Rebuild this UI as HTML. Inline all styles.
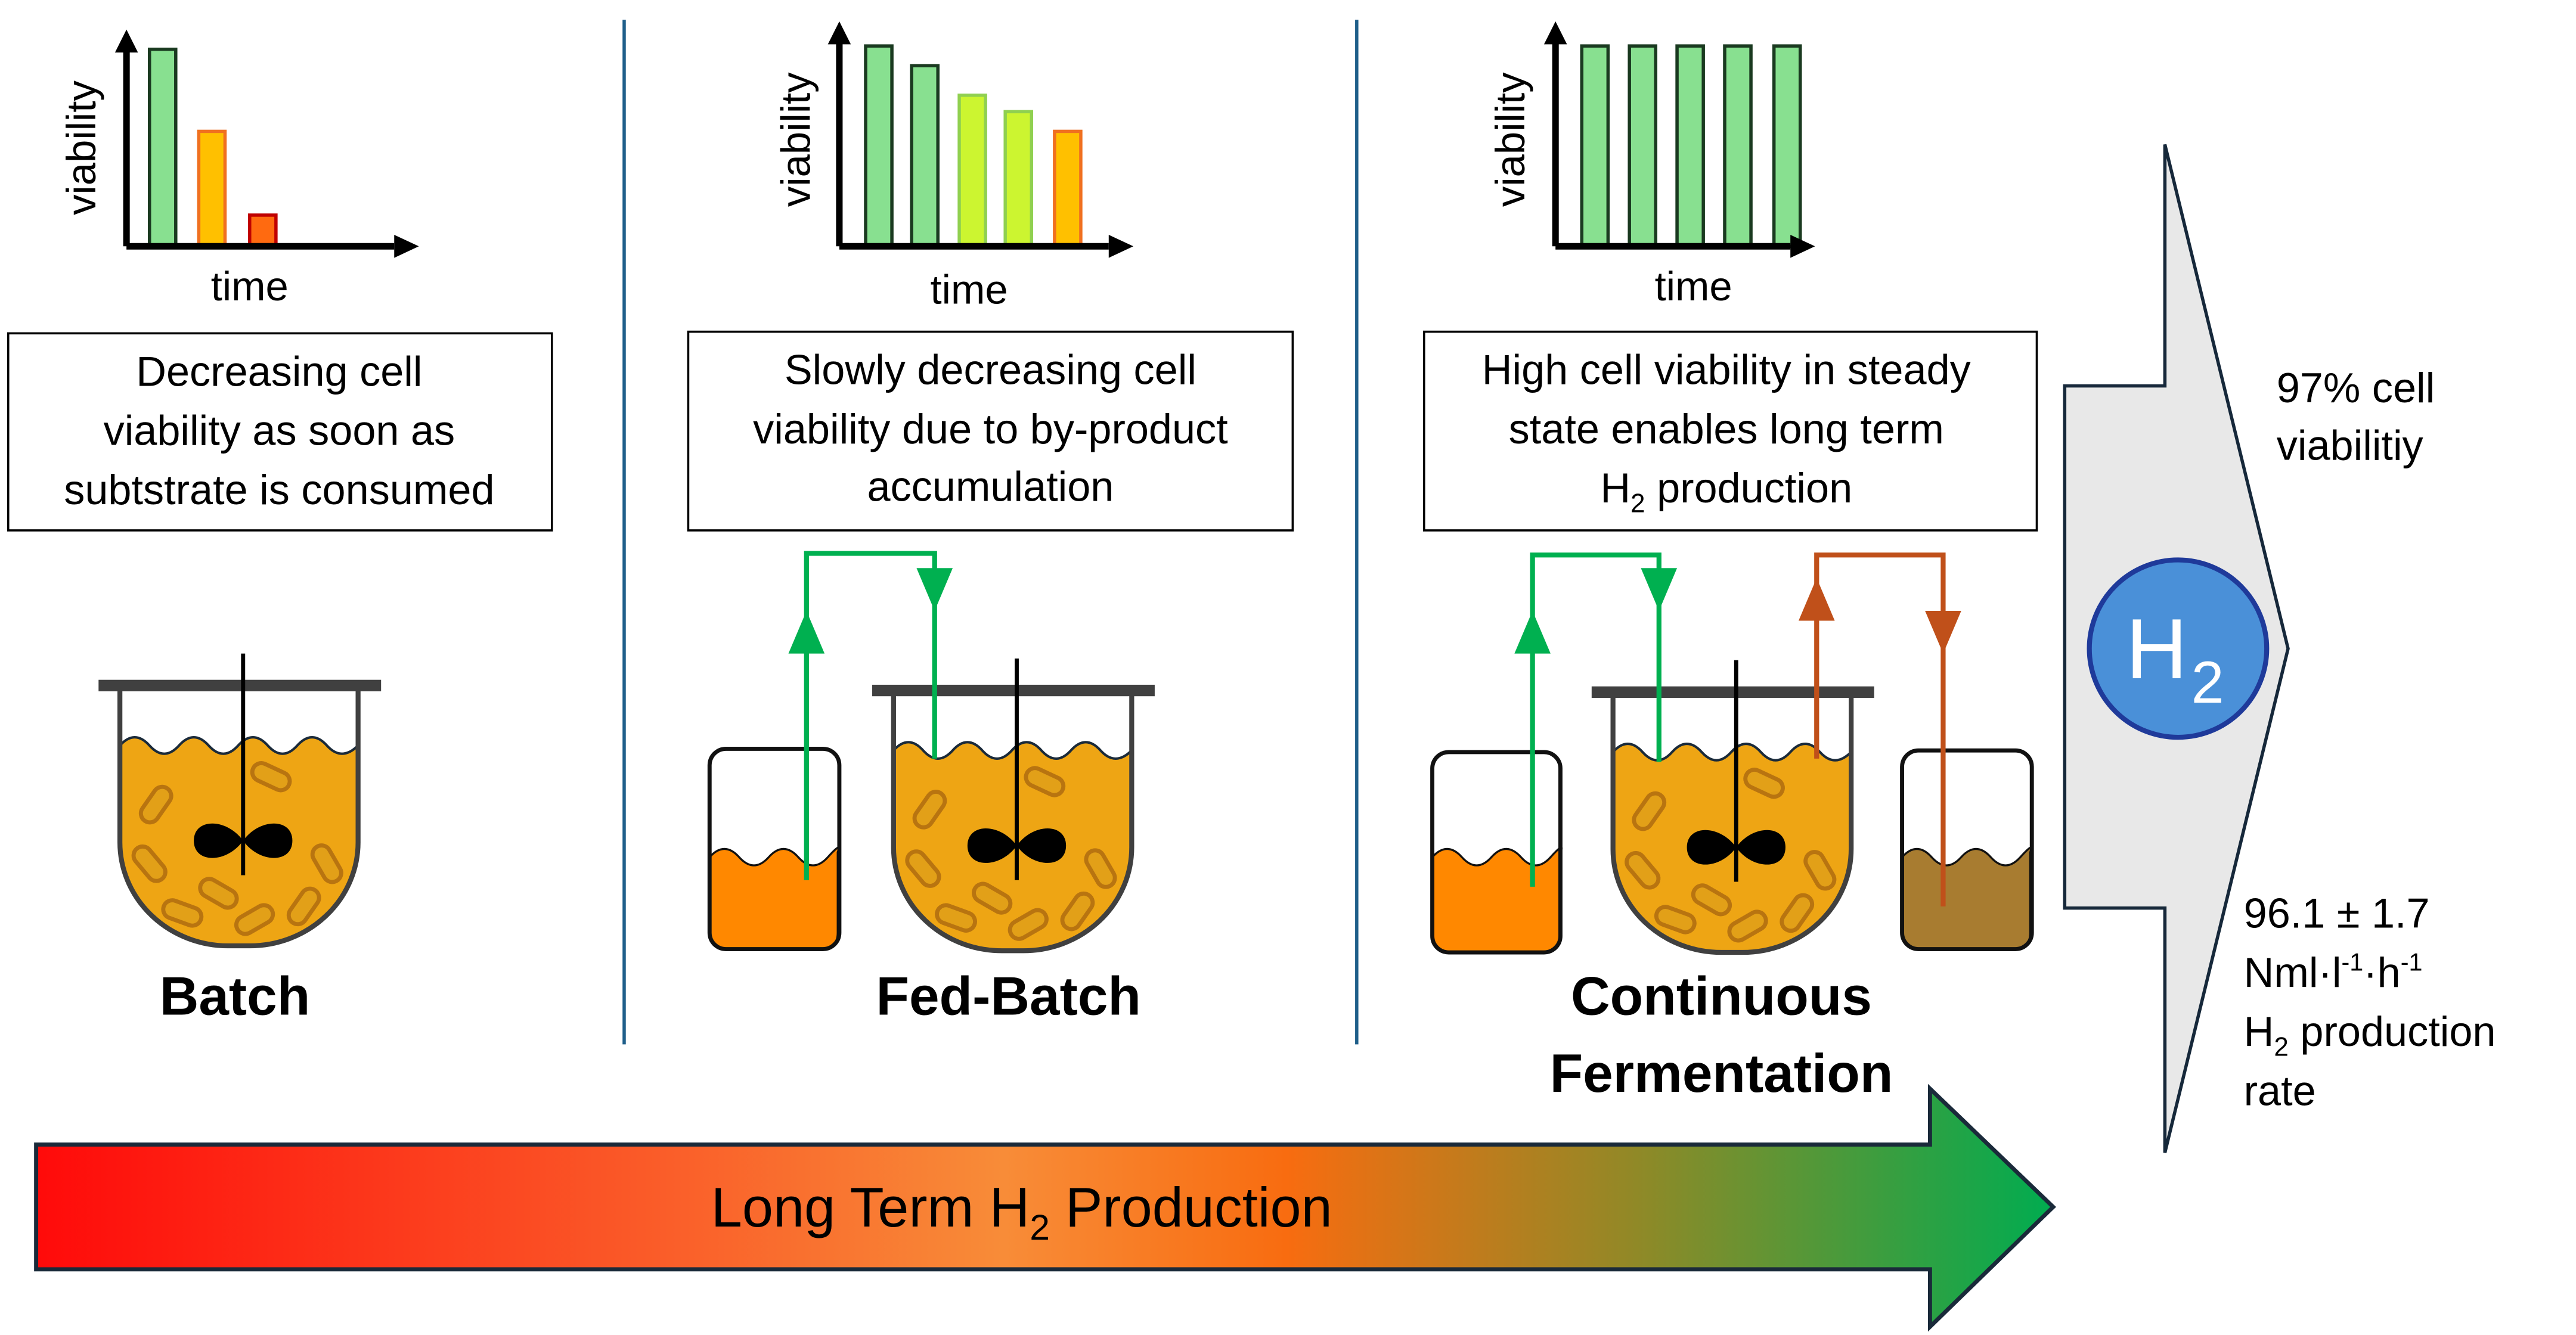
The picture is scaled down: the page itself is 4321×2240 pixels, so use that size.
<!DOCTYPE html>
<html><head><meta charset="utf-8"><style>html,body{margin:0;padding:0;background:#fff}svg{display:block}</style></head>
<body>
<svg width="4321" height="2240" viewBox="0 0 1568 813" preserveAspectRatio="xMinYMin meet" xmlns="http://www.w3.org/2000/svg" font-family="'Liberation Sans', sans-serif">
<defs>
<linearGradient id="g" x1="0" x2="1" y1="0" y2="0">
<stop offset="0" stop-color="#ff0a0a"/><stop offset="0.3" stop-color="#fa5a28"/><stop offset="0.48" stop-color="#f88c38"/><stop offset="0.62" stop-color="#f86c10"/><stop offset="0.8" stop-color="#8c8a28"/><stop offset="1" stop-color="#00ac50"/>
</linearGradient>
<clipPath id="liq"><path d="M0,30 H145 V95 A66,63 0 0 1 79,158 H66 A66,63 0 0 1 0,95 Z"/></clipPath>
<g id="reactor">
<path d="M0,36 q9,-10 18,0 t18,0 t18,0 t18,0 t18,0 t18,0 t18,0 t19,0 V95 A66,63 0 0 1 79,158 H66 A66,63 0 0 1 0,95 Z" fill="#eea514" stroke="#1a2a3a" stroke-width="1.5"/>
<g fill="#e2a018" stroke="#b87410" stroke-width="2.5" clip-path="url(#liq)">
<rect x="-12" y="-5.5" width="24" height="11" rx="5.5" transform="translate(22,72) rotate(-55)"/>
<rect x="-12" y="-5.5" width="24" height="11" rx="5.5" transform="translate(92,55) rotate(25)"/>
<rect x="-12" y="-5.5" width="24" height="11" rx="5.5" transform="translate(18,108) rotate(50)"/>
<rect x="-12" y="-5.5" width="24" height="11" rx="5.5" transform="translate(126,108) rotate(60)"/>
<rect x="-12" y="-5.5" width="24" height="11" rx="5.5" transform="translate(60,126) rotate(30)"/>
<rect x="-12" y="-5.5" width="24" height="11" rx="5.5" transform="translate(38,138) rotate(20)"/>
<rect x="-12" y="-5.5" width="24" height="11" rx="5.5" transform="translate(82,142) rotate(-30)"/>
<rect x="-12" y="-5.5" width="24" height="11" rx="5.5" transform="translate(112,134) rotate(-55)"/>
</g>
<path d="M0,2 V95 A66,63 0 0 0 66,158 H79 A66,63 0 0 0 145,95 V2" fill="none" stroke="#404040" stroke-width="3"/>
<rect x="-13" y="-4" width="172" height="7" fill="#404040"/>
<line x1="75" y1="-20" x2="75" y2="115" stroke="#000" stroke-width="2.5"/>
<path d="M75,94 C65,80 45,80 45,94 C45,108 65,108 75,94 Z"/>
<path d="M75,94 C85,80 105,80 105,94 C105,108 85,108 75,94 Z"/>
</g>
</defs>

<line x1="380" y1="12" x2="380" y2="636" stroke="#1f5f8a" stroke-width="2"/>
<line x1="826" y1="12" x2="826" y2="636" stroke="#1f5f8a" stroke-width="2"/>

<g stroke="#1a3a20" stroke-width="2">
<rect x="91" y="30" width="16" height="120" fill="#88e090"/>
<rect x="121" y="80" width="16" height="70" fill="#ffc000" stroke="#f07020"/>
<rect x="152" y="131" width="16" height="19" fill="#ff6a10" stroke="#c00000"/>
</g>
<path d="M77,150 V28 M77,150 H240" stroke="#000" stroke-width="4" fill="none"/>
<polygon points="77,18 70,32 84,32"/><polygon points="255,150 240,143 240,157"/>
<text x="58" y="90" font-size="25" text-anchor="middle" transform="rotate(-90 58 90)">viability</text>
<text x="152" y="183" font-size="25" text-anchor="middle">time</text>

<g stroke-width="2">
<rect x="527" y="28" width="16" height="122" fill="#88e090" stroke="#1a3a20"/>
<rect x="555" y="40" width="16" height="110" fill="#88e090" stroke="#1a3a20"/>
<rect x="584" y="58" width="16" height="92" fill="#ccf530" stroke="#90d050"/>
<rect x="612" y="68" width="16" height="82" fill="#ccf530" stroke="#90d050"/>
<rect x="642" y="80" width="16" height="70" fill="#ffc000" stroke="#f07020"/>
</g>
<path d="M511,150 V25 M511,150 H675" stroke="#000" stroke-width="4" fill="none"/>
<polygon points="511,13 504,27 518,27"/><polygon points="690,150 675,143 675,157"/>
<text x="493" y="85" font-size="25" text-anchor="middle" transform="rotate(-90 493 85)">viability</text>
<text x="590" y="185" font-size="25" text-anchor="middle">time</text>

<g stroke="#1a3a20" stroke-width="2" fill="#88e090">
<rect x="963" y="28" width="16" height="122"/><rect x="992" y="28" width="16" height="122"/><rect x="1021" y="28" width="16" height="122"/><rect x="1050" y="28" width="16" height="122"/><rect x="1080" y="28" width="16" height="122"/>
</g>
<path d="M947,150 V25 M947,150 H1090" stroke="#000" stroke-width="4" fill="none"/>
<polygon points="947,13 940,27 954,27"/><polygon points="1105,150 1090,143 1090,157"/>
<text x="928" y="85" font-size="25" text-anchor="middle" transform="rotate(-90 928 85)">viability</text>
<text x="1031" y="183" font-size="25" text-anchor="middle">time</text>

<g fill="none" stroke="#000" stroke-width="1.3">
<rect x="5" y="203" width="331" height="120"/>
<rect x="419" y="202" width="368" height="121"/>
<rect x="867" y="202" width="373" height="121"/>
</g>
<g font-size="25.5" text-anchor="middle">
<text x="170" y="235">Decreasing cell</text><text x="170" y="271">viability as soon as</text><text x="170" y="307">subtstrate is consumed</text>
<text x="603" y="234">Slowly decreasing cell</text><text x="603" y="270">viability due to by-product</text><text x="603" y="305">accumulation</text>
<text x="1051" y="234">High cell viability in steady</text><text x="1051" y="270">state enables long term</text><text x="1051" y="306">H<tspan font-size="16" dy="6">2</tspan><tspan dy="-6"> production</tspan></text>
</g>

<use href="#reactor" x="73" y="418"/>
<use href="#reactor" x="544" y="421"/>
<use href="#reactor" x="982" y="422"/>

<g stroke="#111" stroke-width="2.5">
<path d="M432,522 q9,-10 18,0 t18,0 t18,0 t18,0 t6,-3 V568 q0,10 -10,10 H442 q-10,0 -10,-10 Z" fill="#ff8800" stroke-width="1.2"/>
<rect x="432" y="456" width="79" height="122" rx="10" fill="none"/>
<path d="M872,522 q9,-10 18,0 t18,0 t18,0 t18,0 t6,-3 V570 q0,10 -10,10 H882 q-10,0 -10,-10 Z" fill="#ff8800" stroke-width="1.2"/>
<rect x="872" y="458" width="78" height="122" rx="10" fill="none"/>
<path d="M1158,522 q9,-10 18,0 t18,0 t18,0 t18,0 t6,-3 V568 q0,10 -10,10 H1168 q-10,0 -10,-10 Z" fill="#a87c30" stroke-width="1.2"/>
<rect x="1158" y="457" width="79" height="121" rx="10" fill="none"/>
</g>

<g fill="none" stroke-width="3">
<path d="M491,536 V337 H569 V462" stroke="#00b050"/>
<path d="M933,540 V338 H1010 V464" stroke="#00b050"/>
<path d="M1106,462 V338 H1183 V552" stroke="#c0501a"/>
</g>
<g>
<polygon points="491,372 480,398 502,398" fill="#00b050"/>
<polygon points="569,372 558,346 580,346" fill="#00b050"/>
<polygon points="933,372 922,398 944,398" fill="#00b050"/>
<polygon points="1010,372 999,346 1021,346" fill="#00b050"/>
<polygon points="1106,352 1095,378 1117,378" fill="#c0501a"/>
<polygon points="1183,398 1172,372 1194,372" fill="#c0501a"/>
</g>

<g font-weight="bold" font-size="33" text-anchor="middle">
<text x="143" y="618">Batch</text>
<text x="614" y="618">Fed-Batch</text>
<text x="1048" y="618">Continuous</text>
<text x="1048" y="665">Fermentation</text>
</g>

<polygon points="22,697 1175,697 1175,663 1250,735 1175,808 1175,773 22,773" fill="url(#g)" stroke="#1a2a3a" stroke-width="2.5"/>
<text x="622" y="747" font-size="34" text-anchor="middle">Long Term H<tspan font-size="22" dy="8">2</tspan><tspan dy="-8"> Production</tspan></text>

<polygon points="1257,235 1318,235 1318,88 1393,395 1318,702 1318,553 1257,553" fill="#e8e8e8" stroke="#16283a" stroke-width="2"/>
<circle cx="1326" cy="395" r="54" fill="#4a90d8" stroke="#1f3a9a" stroke-width="3"/>
<text x="1313" y="413" font-size="52" fill="#fff" text-anchor="middle">H</text>
<text x="1344" y="428" font-size="36" fill="#fff" text-anchor="middle">2</text>

<g font-size="25.5">
<text x="1386" y="245">97% cell</text>
<text x="1386" y="280">viabilitiy</text>
<text x="1366" y="565">96.1 ± 1.7</text>
<text x="1366" y="601">Nml·l<tspan font-size="15" dy="-10">-1</tspan><tspan dy="10">·h</tspan><tspan font-size="15" dy="-10">-1</tspan></text>
<text x="1366" y="637">H<tspan font-size="16" dy="6">2</tspan><tspan dy="-6"> production</tspan></text>
<text x="1366" y="673">rate</text>
</g>
</svg>
</body></html>
